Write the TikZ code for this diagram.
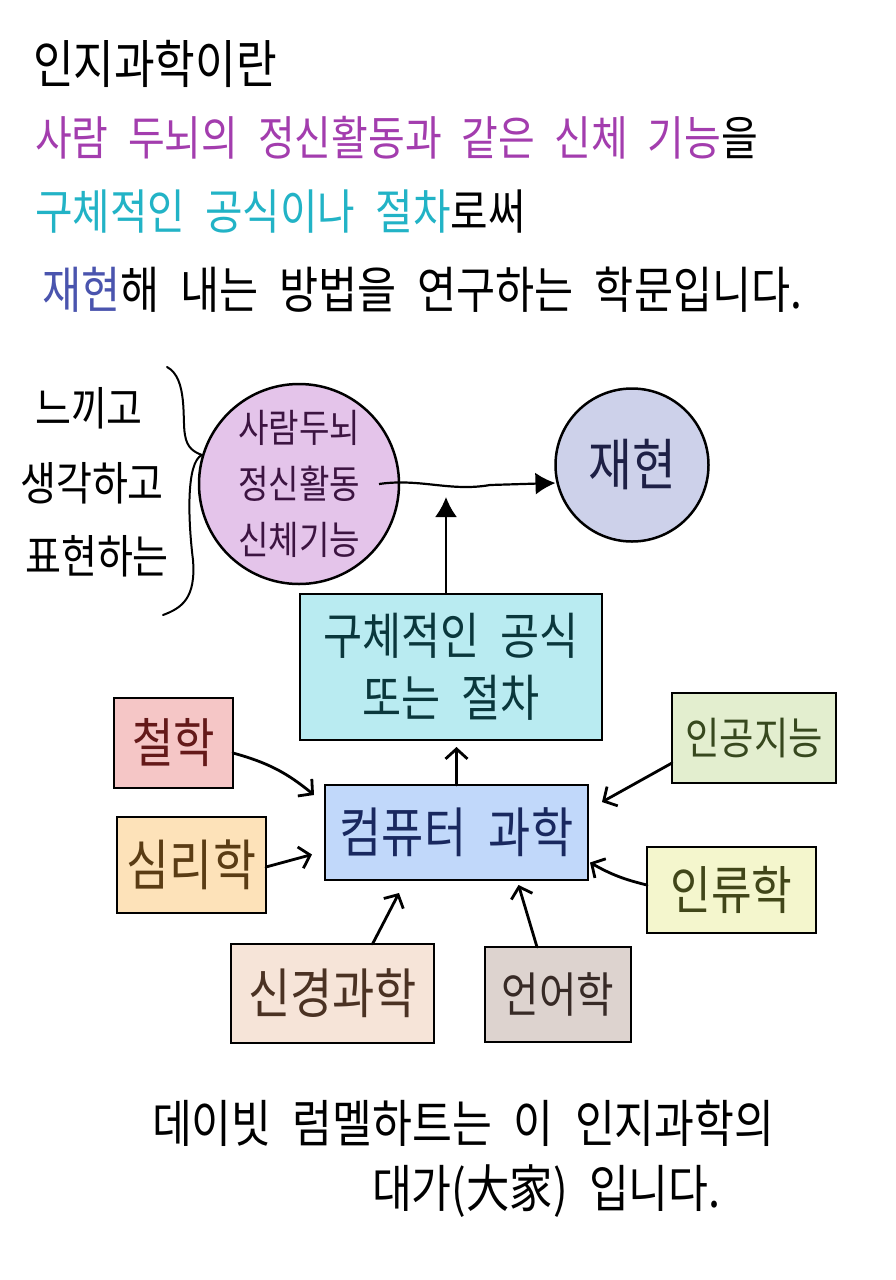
\documentclass[tikz,border=0pt]{standalone}
\usepackage{fontspec}
\setmainfont{Noto Sans CJK KR}[FakeStretch=0.85,WordSpace=2.2]
\usetikzlibrary{arrows.meta,positioning,calc}
\definecolor{mindpurple}{HTML}{A33DAE}
\definecolor{rulecyan}{HTML}{22B3C6}
\definecolor{redoblue}{HTML}{4A54AE}
\definecolor{brainfill}{HTML}{E4C4EA}
\definecolor{redofill}{HTML}{CDD1EA}
\definecolor{rulefill}{HTML}{B9EBF1}
\definecolor{compfill}{HTML}{C1D8FA}
\definecolor{philfill}{HTML}{F5C6C6}
\definecolor{psychfill}{HTML}{FDE2B9}
\definecolor{neurofill}{HTML}{F6E4D8}
\definecolor{lingfill}{HTML}{DDD3CF}
\definecolor{aifill}{HTML}{E3EECF}
\definecolor{anthfill}{HTML}{F4F6CD}
\newcommand{\sz}[1]{\fontsize{#1}{#1}\selectfont}

\begin{document}
\begin{tikzpicture}[x=1pt,y=-1pt,
    every node/.style={inner sep=0pt,outer sep=0pt},
    field/.style={draw=black,line width=2.5pt},
    blob/.style={circle,draw=black,line width=2.5pt},
    link/.style={-{Straight Barb[length=10pt,width=22pt]},line width=2.8pt,line cap=round},
    main/.style={-{Latex[length=20pt,width=22pt]},line width=2.2pt}]
  \fill[white] (0,0) rectangle (896,1280);
  \useasboundingbox (0,0) rectangle (896,1280);

  % definition text
  \node[anchor=west] (line1) at (33,64) {\sz{52}인지과학이란};
  \node[anchor=west] (line2) at (35,138) {\sz{47}\color{mindpurple}사람 두뇌의 정신활동과 같은 신체 기능\color{black}을};
  \node[anchor=west] (line3) at (35,212) {\sz{48}\color{rulecyan}구체적인 공식이나 절차\color{black}로써};
  \node[anchor=west] (line4) at (42,290) {\sz{50}\color{redoblue}재현\color{black}해 내는 방법을 연구하는 학문입니다.};

  % left side and brace
  \node (feel)  at (89,408)  {\sz{46}느끼고};
  \node (think) at (92,483)  {\sz{46}생각하고};
  \node (show)  at (97,556)  {\sz{46}표현하는};
  \draw[line width=2pt,line cap=round] (167,367) .. controls (188,378) and (182,420) .. (185,435)
    .. controls (187,448) and (194,452) .. (202,455)
    .. controls (186,462) and (188,520) .. (193,560)
    .. controls (196,598) and (182,608) .. (163,615);

  % circles
  \node[blob,fill=brainfill,minimum size=200pt,align=center,
        font=\fontsize{39}{56}\selectfont,text={rgb,255:red,60;green,20;blue,65}] (brain) at (299,484)
        {사람두뇌\\정신활동\\신체기능};
  \node[blob,fill=redofill,minimum size=153pt,font=\sz{56},text={rgb,255:red,30;green,32;blue,70}] (redo) at (632,465) {재현};

  % boxes
  \node[field,fill=rulefill,minimum width=302pt,minimum height=146pt,align=center,
        font=\fontsize{50}{62}\selectfont,text={rgb,255:red,10;green,55;blue,60}] (formula) at (451,667)
        {구체적인 공식\\또는 절차};
  \node[field,fill=compfill,minimum width=263pt,minimum height=95pt,font=\sz{54},
        text={rgb,255:red,25;green,40;blue,95}] (cs) at (456.5,832.5) {컴퓨터 과학};
  \node[field,fill=philfill,minimum width=119pt,minimum height=90pt,font=\sz{53},
        text={rgb,255:red,100;green,25;blue,25}] (phil) at (173.5,743) {철학};
  \node[field,fill=psychfill,minimum width=149pt,minimum height=96pt,font=\sz{55},
        text={rgb,255:red,90;green,60;blue,20}] (psych) at (191.5,865) {심리학};
  \node[field,fill=neurofill,minimum width=203pt,minimum height=99pt,font=\sz{54},
        text={rgb,255:red,75;green,50;blue,35}] (neuro) at (332.5,993.5) {신경과학};
  \node[field,fill=lingfill,minimum width=146pt,minimum height=95pt,font=\sz{48},
        text={rgb,255:red,55;green,42;blue,38}] (ling) at (558,994.5) {언어학};
  \node[field,fill=aifill,minimum width=164pt,minimum height=90pt,font=\sz{44},
        text={rgb,255:red,55;green,72;blue,30}] (ai) at (754,738) {인공지능};
  \node[field,fill=anthfill,minimum width=169pt,minimum height=86pt,font=\sz{52},
        text={rgb,255:red,65;green,70;blue,25}] (anth) at (731.5,890) {인류학};

  % connectors
  \coordinate (meet) at (446,497);
  \draw[main] ([xshift=-20pt]brain.east) .. controls (420,478) and (450,492) .. (490,485) -- ([yshift=-18pt]redo.west);
  \draw[main] ([xshift=-5pt]formula.north) -- (meet);
  \draw[link] (cs.north) -- (cs.north |- formula.south) [shorten >=7pt];
  \draw[link] ([yshift=-10pt]phil.east) to[bend left=12] ([xshift=-11pt,yshift=-10pt]cs.north west);
  \draw[link] ([yshift=-2pt]psych.east) -- ([xshift=-13pt,yshift=-22pt]cs.west);
  \draw[link] ([xshift=40pt]neuro.north) -- ([xshift=74pt,yshift=-13pt]cs.south west);
  \draw[link] ([xshift=-21pt]ling.north) -- ([xshift=62pt,yshift=-5pt]cs.south);
  \draw[link] ([yshift=20pt]ai.south west) -- ([xshift=14pt,yshift=-17pt]cs.north east);
  \draw[link] ([yshift=5pt]anth.west) to[bend left=8] ([xshift=2pt,yshift=-30pt]cs.east);

  % closing text
  \node[anchor=west] (note1) at (152,1123) {\sz{51}데이빗 럼멜하트는 이 인지과학의};
  \node[anchor=west] (note2) at (372,1191) {\sz{51}대가(大家) 입니다.};
\end{tikzpicture}
\end{document}
